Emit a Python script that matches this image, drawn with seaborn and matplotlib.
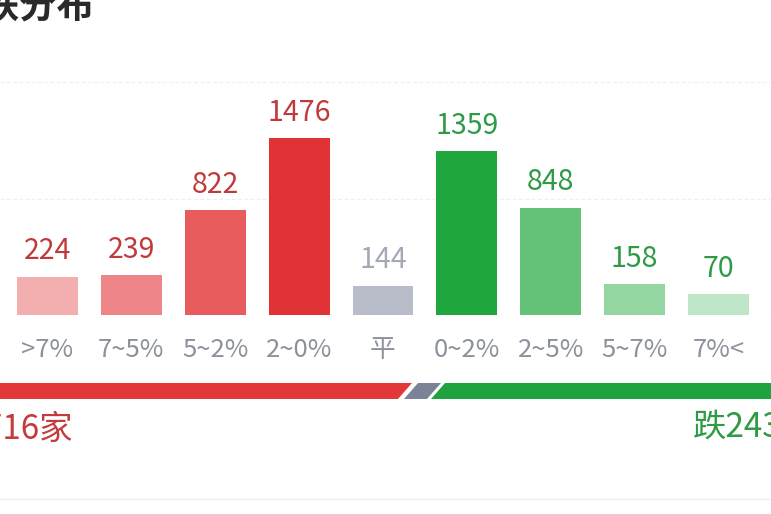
import matplotlib
matplotlib.use("Agg")
import matplotlib.pyplot as plt
from matplotlib.patches import Polygon
from matplotlib.lines import Line2D
import seaborn as sns
import pandas as pd

# ---- data ----
categories = [">7%", "7~5%", "5~2%", "2~0%", "平", "0~2%", "2~5%", "5~7%", "7%<"]
counts = [224, 239, 822, 1476, 144, 1359, 848, 158, 70]
bar_colors = ["#f3aeb0", "#ee8588", "#e85c5e", "#e13336", "#b9bdca",
              "#1fa63d", "#63c278", "#93d6a1", "#bfe6c8"]
label_colors = ["#c03a3c"] * 4 + ["#a4a9b6"] + ["#2f9a46"] * 4
title = "涨跌分布"
up_text = "涨2716家"
down_text = "跌2435家"

sns.set_theme(style="white")
plt.rcParams["font.family"] = ["Noto Sans CJK SC", "DejaVu Sans"]

W, H = 771, 514
fig = plt.figure(figsize=(W / 100, H / 100), dpi=100)
fig.patch.set_facecolor("white")

# axes: baseline at y=315px, top gridline at y=82px, full width
ax = fig.add_axes([0, (H - 315) / H, 1, (315 - 82) / H])
df = pd.DataFrame({"cat": categories, "n": counts})
sns.barplot(data=df, x="cat", y="n", hue="cat", palette=dict(zip(categories, bar_colors)),
            order=categories, hue_order=categories, legend=False, width=0.727,
            saturation=1, ax=ax)

base = 120  # bars carry a minimum visible stub below zero
for cont in ax.containers:
    for p in cont.patches:
        p.set_y(-base)
        p.set_height(p.get_height() + base)
        p.set_edgecolor("none")

pitch = 83.875
ax.set_xlim(-47.5 / pitch, (W - 47.5) / pitch)
ax.set_ylim(-base, 1980)
ax.set_yticks([-base, (1980 - base) / 2, 1980])
ax.set_yticklabels([])
ax.tick_params(axis="y", length=0)
ax.yaxis.grid(True, color="#efefef", linestyle=(0, (3, 2)), linewidth=0.9)
ax.set_axisbelow(True)
for s in ax.spines.values():
    s.set_visible(False)
ax.set_xlabel("")
ax.set_ylabel("")
ax.tick_params(axis="x", length=0, pad=16, labelsize=18.5, labelcolor="#8c919b")

for i, (v, c) in enumerate(zip(counts, label_colors)):
    ax.annotate(f"{v}", xy=(i, v), xytext=(0, 12.5), textcoords="offset points",
                ha="center", va="baseline", fontsize=20.5, color=c)

# title (partially cropped at top-left, as in the screenshot)
fig.text(94 / W, 1 - 7 / H, title, ha="right", va="center", fontsize=27,
         fontweight="bold", color="#2a2a2a")

# bottom ratio bar
y0, y1 = 1 - 399 / H, 1 - 383 / H
def P(pts, color):
    fig.patches.append(Polygon([(x / W, y) for x, y in pts], closed=True,
                               transform=fig.transFigure, facecolor=color,
                               edgecolor="none"))
P([(0, y1), (412, y1), (398, y0), (0, y0)], "#e2383a")
P([(418, y1), (441, y1), (427, y0), (404, y0)], "#7b8497")
P([(445, y1), (W, y1), (W, y0), (431, y0)], "#1fa33e")

fig.text(73 / W, 1 - 429 / H, up_text, ha="right", va="center", fontsize=24,
         color="#c63a3d")
fig.text(693 / W, 1 - 427 / H, down_text, ha="left", va="center", fontsize=24,
         color="#2e9b45")

fig.lines.append(Line2D([0, 1], [1 - 499 / H] * 2, transform=fig.transFigure,
                        color="#efefef", linewidth=1))

fig.savefig("out.png", dpi=100, facecolor="white")
